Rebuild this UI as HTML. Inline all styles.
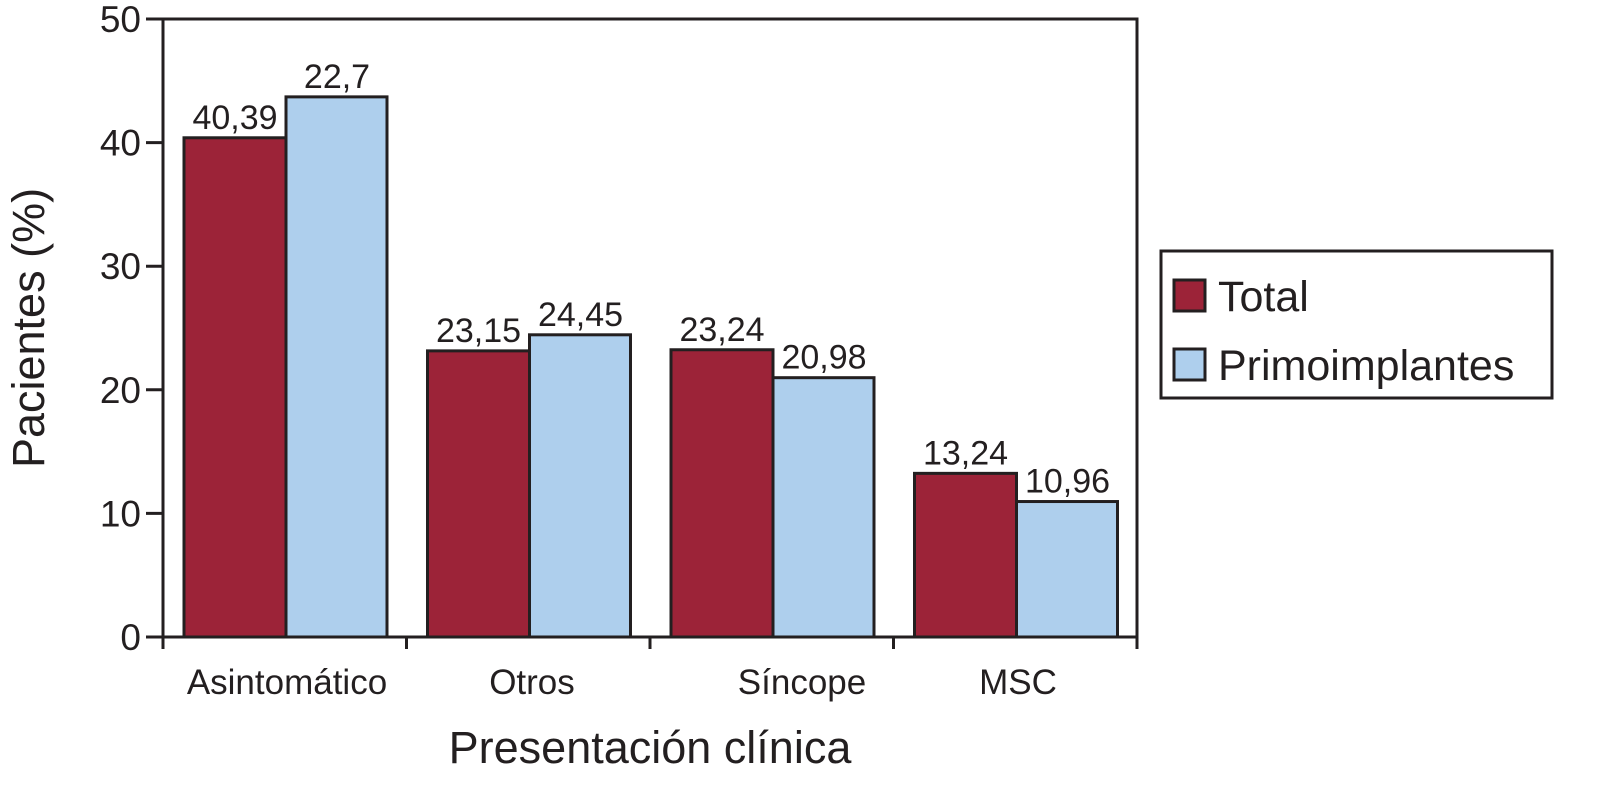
<!DOCTYPE html>
<html><head><meta charset="utf-8"><style>
html,body{margin:0;padding:0;background:#fff;}
svg{display:block;font-family:"Liberation Sans",Arial,sans-serif;}
</style></head><body>
<svg id="chart" width="1599" height="789" viewBox="0 0 1599 789" xmlns="http://www.w3.org/2000/svg"></svg>
<script>
const categories = ["Asintomático","Otros","Síncope","MSC"];
const totalValues = [40.39, 23.15, 23.24, 13.24];
const primoValues = [43.7, 24.45, 20.98, 10.96];
const totalLabels = ["40,39","23,15","23,24","13,24"];
const primoLabels = ["22,7","24,45","20,98","10,96"];
const yTicks = [0,10,20,30,40,50];

const NS = "http://www.w3.org/2000/svg";
const svg = document.getElementById('chart');
const X0 = 163, X1 = 1137, Y0 = 637, Y1 = 19, YMAX = 50;
const groupW = (X1 - X0) / categories.length;
function y(v){ return Y0 - (v / YMAX) * (Y0 - Y1); }
function gx(i){ return X0 + i * groupW; }
function mk(tag, attrs, text){
  const e = document.createElementNS(NS, tag);
  for (const k in attrs) e.setAttribute(k, attrs[k]);
  if (text !== undefined) e.textContent = text;
  svg.appendChild(e);
  return e;
}
const ink = "#231f20";
let e = mk('rect', {x:X0, y:Y1, width:X1-X0, height:Y0-Y1, fill:'none', stroke:ink, 'stroke-width':3});


yTicks.forEach(t => {
  const l = mk('line', {x1:X0-17, x2:X0, y1:y(t), y2:y(t), stroke:ink, 'stroke-width':3});
  
  
  const tx = mk('text', {x:X0-22, y:y(t)+13, 'text-anchor':'end', 'font-size':37, fill:ink}, String(t));
  
  
});
for (let i = 0; i <= categories.length; i++) {
  const l = mk('line', {x1:gx(i), x2:gx(i), y1:Y0, y2:Y0+12, stroke:ink, 'stroke-width':3});
  
  
}
const barW = 102, offset = 21;
const catX = [287, 532, 802, 1018];
categories.forEach((c, i) => {
  const xr = gx(i) + offset;
  const xb = xr + barW;
  const r = mk('rect', {x:xr, y:y(totalValues[i]), width:barW, height:Y0-y(totalValues[i]), fill:'#9c2338', stroke:ink, 'stroke-width':3});
  
  
  const b = mk('rect', {x:xb, y:y(primoValues[i]), width:barW-1, height:Y0-y(primoValues[i]), fill:'#aecfed', stroke:ink, 'stroke-width':3});
  
  
  const lt = mk('text', {x:xr+barW/2, y:y(totalValues[i])-9, 'text-anchor':'middle', 'font-size':34, fill:ink}, totalLabels[i]);
  
  
  const lb = mk('text', {x:xb+barW/2, y:y(primoValues[i])-9, 'text-anchor':'middle', 'font-size':34, fill:ink}, primoLabels[i]);
  
  
  const cl = mk('text', {x:catX[i], y:694, 'text-anchor':'middle', 'font-size':35, fill:ink}, c);
  
  
});
e = mk('text', {x:650, y:763, 'text-anchor':'middle', 'font-size':45, fill:ink}, 'Presentación clínica');


e = mk('text', {x:0, y:0, 'text-anchor':'middle', 'font-size':45, fill:ink, transform:'translate(44,328) rotate(-90)'}, 'Pacientes (%)');


e = mk('rect', {x:1161, y:251, width:391, height:147, fill:'#fff', stroke:ink, 'stroke-width':3});


e = mk('rect', {x:1174, y:280, width:31, height:31, fill:'#9c2338', stroke:ink, 'stroke-width':3});


e = mk('text', {x:1218, y:311, 'font-size':43, fill:ink}, 'Total');


e = mk('rect', {x:1174, y:349, width:31, height:31, fill:'#aecfed', stroke:ink, 'stroke-width':3});


e = mk('text', {x:1218, y:380, 'font-size':43, fill:ink}, 'Primoimplantes');


</script>
</body></html>
